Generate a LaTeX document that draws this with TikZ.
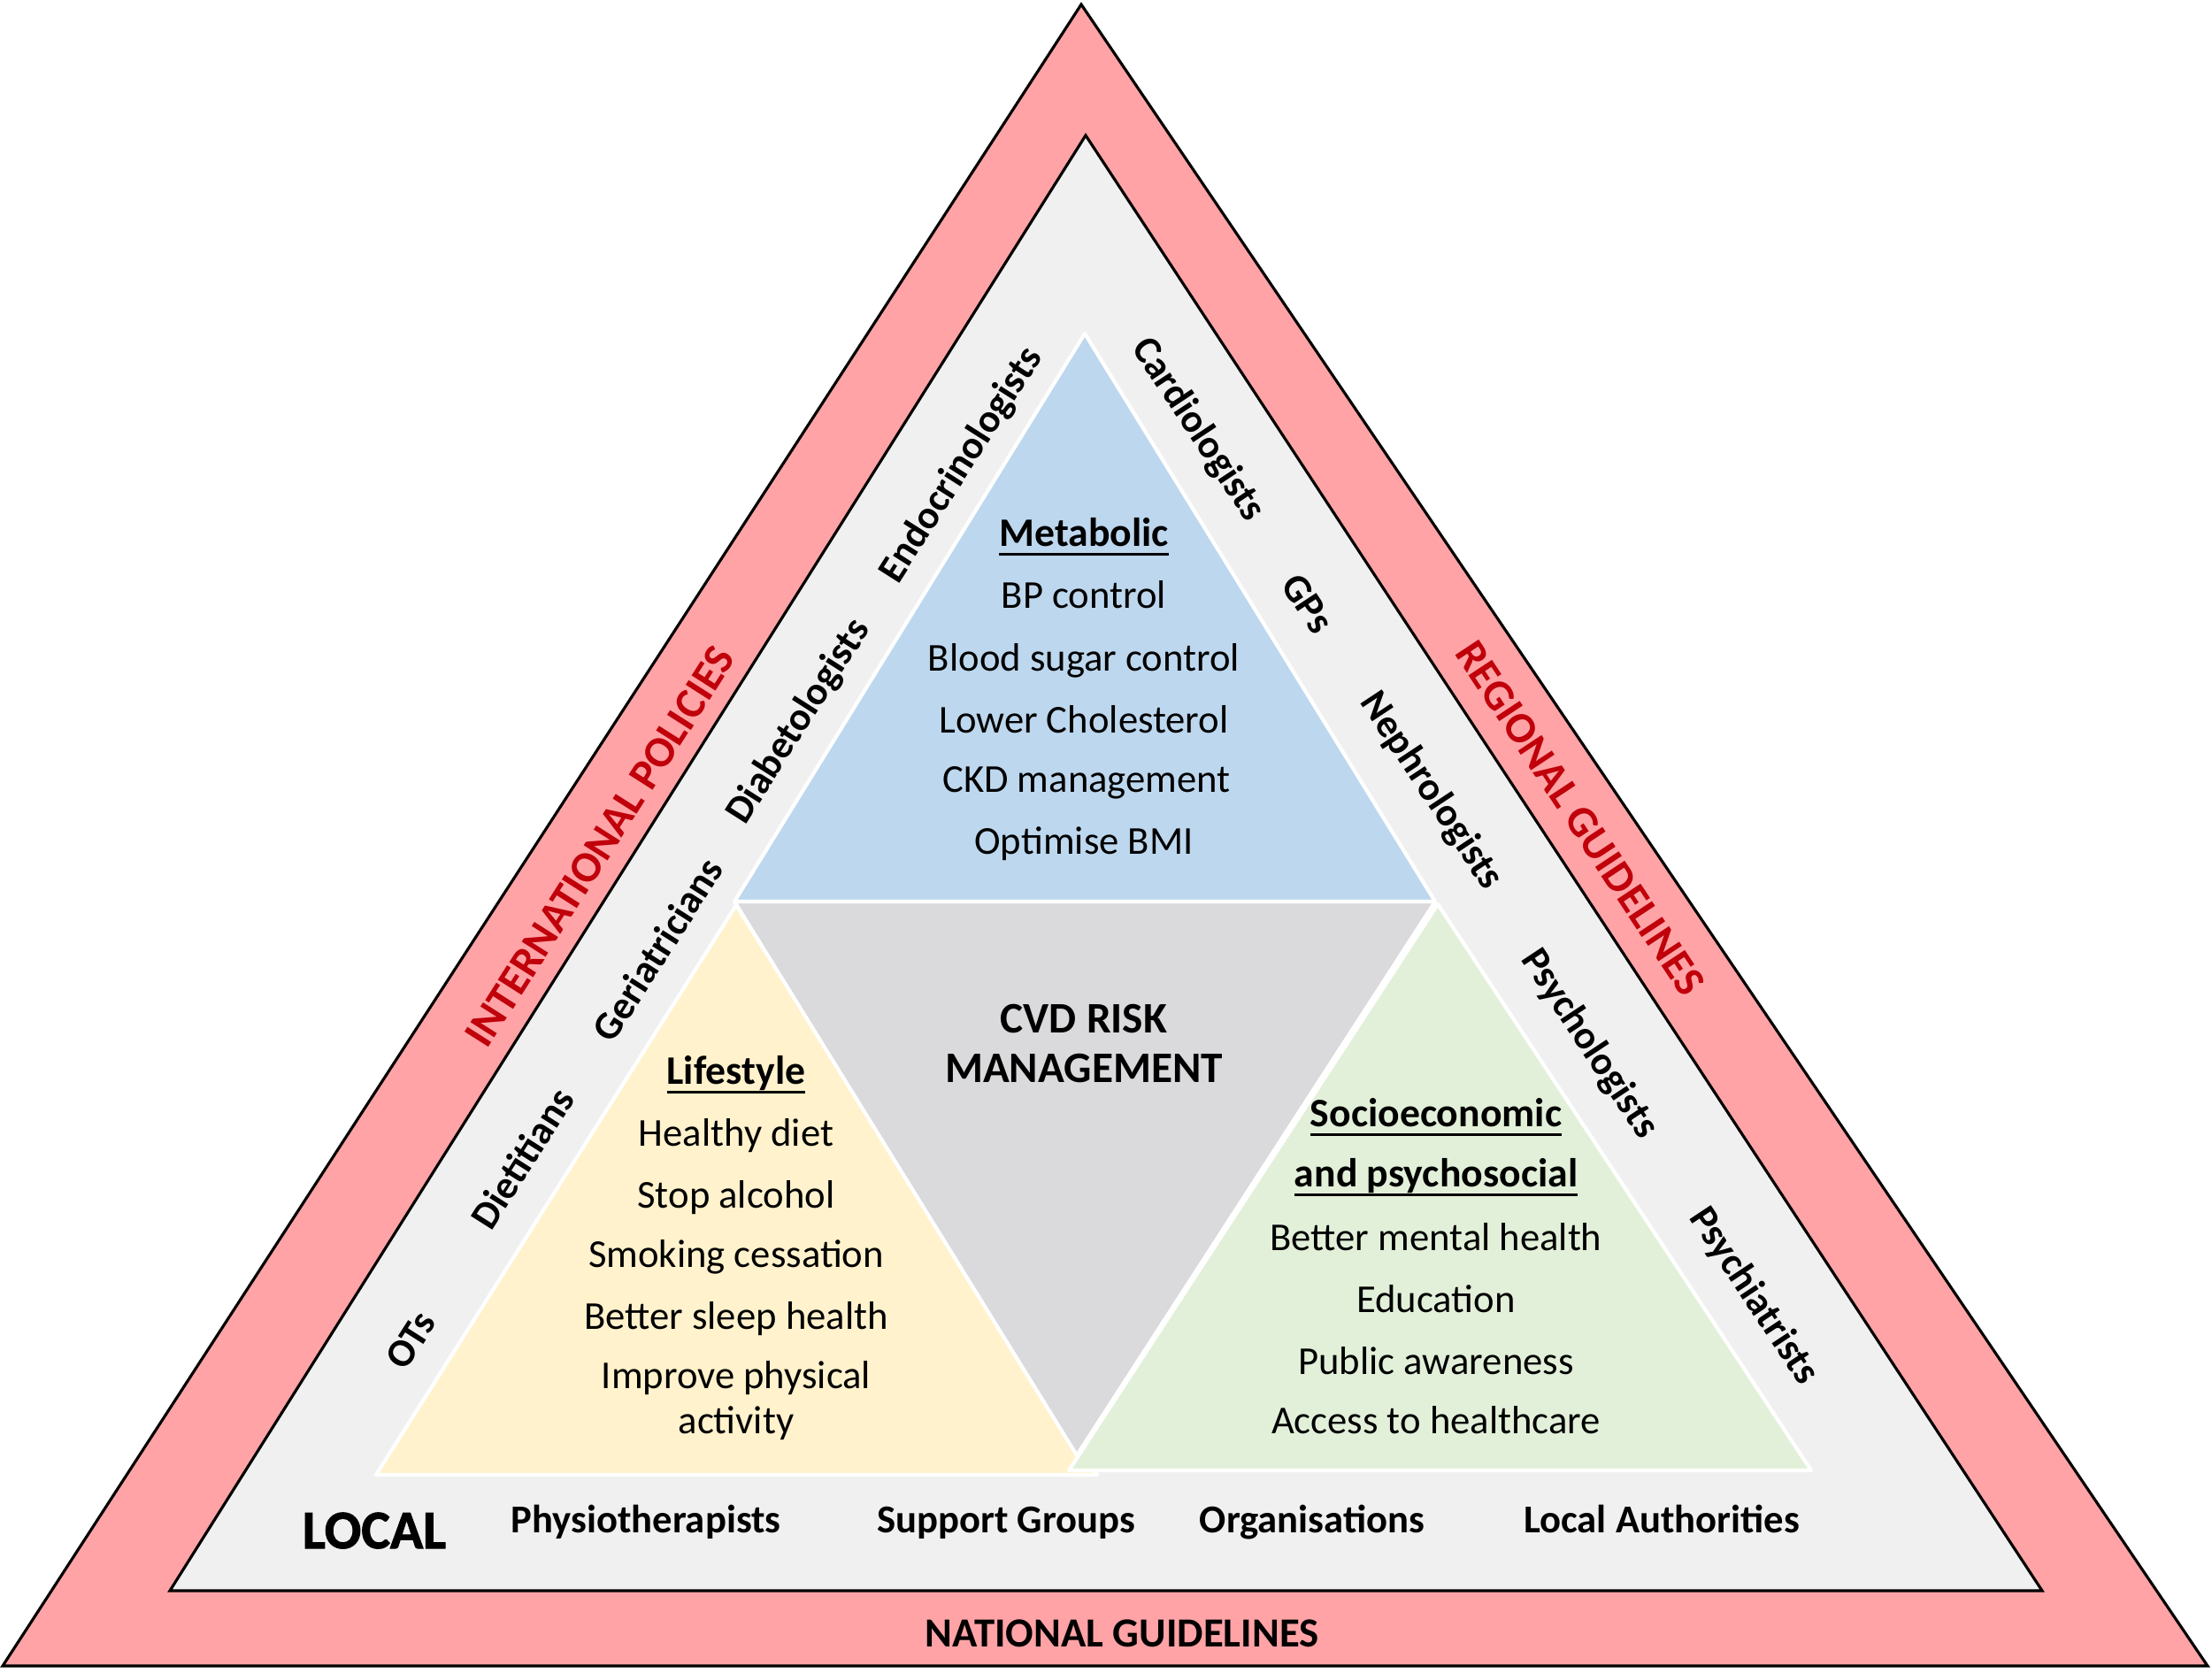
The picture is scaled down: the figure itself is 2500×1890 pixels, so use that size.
\documentclass[tikz,border=0pt]{standalone}
\usepackage{fontspec}
\setmainfont{Carlito}
\newfontfamily\localfont[BoldFeatures={FakeBold=1.6}]{Carlito}
\definecolor{pinkband}{RGB}{255,163,166}
\definecolor{lightbg}{RGB}{240,240,241}
\definecolor{metblue}{RGB}{189,215,238}
\definecolor{lifeyel}{RGB}{255,242,204}
\definecolor{cvdgray}{RGB}{218,218,220}
\definecolor{socgreen}{RGB}{226,240,217}
\definecolor{polred}{RGB}{192,0,10}
\newsavebox\ulbox
\newcommand\ulin[1]{\sbox\ulbox{#1}\rlap{\rule[-0.25em]{\wd\ulbox}{0.065em}}\usebox\ulbox}
\begin{document}
\begin{tikzpicture}[x=0.01cm,y=-0.01cm,
  band/.style={draw=black,line width=0.9pt,line join=miter},
  inner/.style={draw=white,line width=1.2pt,line join=round},
  txt/.style={anchor=base,inner sep=0pt,font=\fontsize{12.7}{15}\selectfont},
  head/.style={anchor=base,inner sep=0pt,font=\fontsize{13}{15}\selectfont\bfseries},
  cvd/.style={anchor=base,inner sep=0pt,font=\fontsize{14}{16}\selectfont\bfseries},
  lbl/.style={anchor=center,inner sep=0pt,font=\fontsize{12.7}{15}\selectfont\bfseries},
  big/.style={anchor=center,inner sep=0pt,font=\fontsize{14}{16}\selectfont\bfseries,text=polred},
  botlbl/.style={anchor=base,inner sep=0pt,font=\fontsize{12.7}{15}\selectfont\bfseries},
]
\useasboundingbox (0,0) rectangle (2500,1890);
% vertices
\coordinate (OA) at (1222,5);
\coordinate (OL) at (3,1883);
\coordinate (OR) at (2495,1883);
\coordinate (IA) at (1227,153);
\coordinate (IL) at (192,1798);
\coordinate (IR) at (2308,1798);
\coordinate (BA) at (1226,377);
\coordinate (BL) at (830,1019);
\coordinate (BR) at (1622,1019);
\coordinate (GB) at (1217,1645);
\coordinate (YA) at (832,1023);
\coordinate (YL) at (425,1667);
\coordinate (YR) at (1240,1667);
\coordinate (SA) at (1625,1022);
\coordinate (SL) at (1208,1662);
\coordinate (SR) at (2047,1662);
% layers
\filldraw[band,fill=pinkband] (OA) -- (OL) -- (OR) -- cycle;
\filldraw[band,fill=lightbg] (IA) -- (IL) -- (IR) -- cycle;
\filldraw[inner,fill=lifeyel] (YA) -- (YL) -- (YR) -- cycle;
\filldraw[inner,fill=socgreen] (SA) -- (SL) -- (SR) -- cycle;
\filldraw[inner,fill=cvdgray] (BL) -- (BR) -- (GB) -- cycle;
\filldraw[inner,fill=metblue] (BA) -- (BL) -- (BR) -- cycle;
% metabolic
\node[head] (met) at (1225,617) {\ulin{Metabolic}};
\node[txt] (m1) at (1225,687) {BP control};
\node[txt] (m2) at (1225,758) {Blood sugar control};
\node[txt] (m3) at (1225,828) {Lower Cholesterol};
\node[txt] (m4) at (1228,895) {CKD management};
\node[txt] (m5) at (1225,965) {Optimise BMI};
% CVD
\node[cvd] (cvd1) at (1225,1167) {CVD RISK};
\node[cvd] (cvd2) at (1225,1223) {MANAGEMENT};
% lifestyle
\node[head] (life) at (832,1225) {\ulin{Lifestyle}};
\node[txt] (l1) at (832,1295) {Healthy diet};
\node[txt] (l2) at (832,1365) {Stop alcohol};
\node[txt] (l3) at (832,1432) {Smoking cessation};
\node[txt] (l4) at (832,1502) {Better sleep health};
\node[txt] (l5) at (832,1569) {Improve physical};
\node[txt] (l6) at (832,1620) {activity};
% socio
\node[head] (soc) at (1623,1273) {\ulin{Socioeconomic}};
\node[head] (soc2) at (1623,1341) {\ulin{and psychosocial}};
\node[txt] (s1) at (1623,1413) {Better mental health};
\node[txt] (s2) at (1623,1483) {Education};
\node[txt] (s3) at (1623,1553) {Public awareness};
\node[txt] (s4) at (1623,1620) {Access to healthcare};
% left side
\node[big,rotate=57.5] (intl) at (678,957) {INTERNATIONAL POLICIES};
\node[lbl,rotate=57.5] (endo) at (1087,526) {Endocrinologists};
\node[lbl,rotate=57.5] (diab) at (903,816) {Diabetologists};
\node[lbl,rotate=57.5] (geri) at (743,1073) {Geriatricians};
\node[lbl,rotate=57.5] (diet) at (590,1309) {Dietitians};
\node[lbl,rotate=57.5] (ots) at (464,1515) {OTs};
% right side
\node[big,rotate=-56.5] (reg) at (1786,925) {REGIONAL GUIDELINES};
\node[lbl,rotate=-56.5] (card) at (1354,486) {Cardiologists};
\node[lbl,rotate=-56.5] (gps) at (1478,682) {GPs};
\node[lbl,rotate=-56.5] (neph) at (1617,894) {Nephrologists};
\node[lbl,rotate=-56.5] (psyl) at (1796,1180) {Psychologists};
\node[lbl,rotate=-56.5] (psyc) at (1982,1465) {Psychiatrists};
% bottom
\node[anchor=base,inner sep=0pt,font=\fontsize{17.5}{20}\selectfont\localfont\bfseries] (local) at (423,1750) {LOCAL};
\node[botlbl] (phys) at (730,1732) {Physiotherapists};
\node[botlbl] (supp) at (1137,1732) {Support Groups};
\node[botlbl] (org) at (1483,1732) {Organisations};
\node[botlbl] (la) at (1878,1732) {Local Authorities};
\node[botlbl,font=\fontsize{13.3}{15}\selectfont\bfseries] (nat) at (1268,1861) {NATIONAL GUIDELINES};
\end{tikzpicture}
\end{document}
